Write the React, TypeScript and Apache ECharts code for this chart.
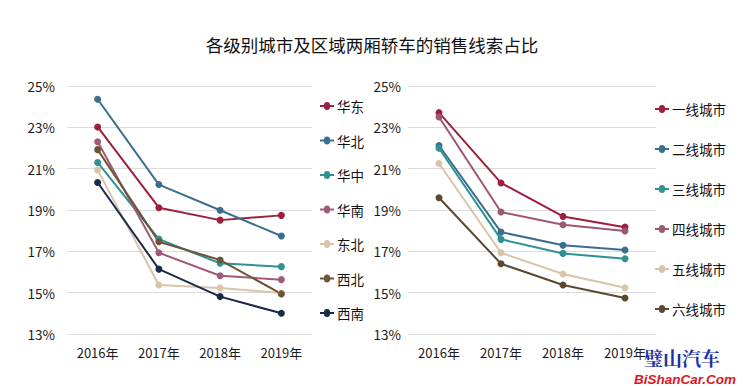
import React, { useEffect, useRef } from "react";
import * as echarts from "echarts";

const years = ["2016年", "2017年", "2018年", "2019年"];

const regionNames = ["华东", "华北", "华中", "华南", "东北", "西北", "西南"];
const huaDong = [23.02, 19.11, 18.51, 18.74];
const huaBei = [24.36, 20.23, 18.99, 17.74];
const huaZhong = [21.3, 17.59, 16.42, 16.26];
const huaNan = [22.3, 16.93, 15.82, 15.63];
const dongBei = [20.93, 15.37, 15.23, 14.98];
const xiBei = [21.92, 17.46, 16.58, 14.94];
const xiNan = [20.33, 16.14, 14.81, 14.0];
const regionValues = [huaDong, huaBei, huaZhong, huaNan, dongBei, xiBei, xiNan];

const tierNames = ["一线城市", "二线城市", "三线城市", "四线城市", "五线城市", "六线城市"];
const tier1 = [23.71, 20.31, 18.69, 18.17];
const tier2 = [22.12, 17.93, 17.29, 17.06];
const tier3 = [21.99, 17.58, 16.9, 16.64];
const tier4 = [23.5, 18.9, 18.29, 17.98];
const tier5 = [21.25, 16.93, 15.9, 15.24];
const tier6 = [19.59, 16.4, 15.37, 14.74];
const tierValues = [tier1, tier2, tier3, tier4, tier5, tier6];

const yTicks = [13, 15, 17, 19, 21, 23, 25];

const regionColors = ["#9c1f3e", "#3b6e8e", "#2f9292", "#a15b7a", "#d8c4a8", "#6d5436", "#1b2949"];
const tierColors = ["#9c1f3e", "#3b6e8e", "#2f9292", "#9d5674", "#d8c4a8", "#5c4830"];

const FONT = "'Noto Sans CJK SC', 'Noto Sans', sans-serif";

export default function App() {
  const ref = useRef<HTMLDivElement>(null);
  useEffect(() => {
    if (!ref.current) return;
    const chart = echarts.init(ref.current, undefined, { renderer: "svg" });

    const makeX = (gridIndex: number) => ({
      type: "category" as const,
      gridIndex,
      data: years,
      boundaryGap: true,
      axisLine: { show: false },
      axisTick: { show: false },
      axisLabel: { color: "#1a1a1a", fontSize: 13, fontFamily: FONT, margin: 12 },
    });
    const makeY = (gridIndex: number, margin: number) => ({
      type: "value" as const,
      gridIndex,
      min: yTicks[0],
      max: yTicks[yTicks.length - 1],
      interval: 2,
      axisLine: { show: false },
      axisTick: { show: false },
      axisLabel: {
        color: "#1a1a1a",
        fontSize: 13.5,
        fontFamily: FONT,
        margin,
        formatter: (v: number) => `${v}%`,
      },
      splitLine: { lineStyle: { color: "#dcdcdc", width: 1 } },
    });

    const mkSeries = (names: string[], vals: number[][], colors: string[], idx: number) =>
      names.map((n, i) => ({
        name: n,
        type: "line" as const,
        xAxisIndex: idx,
        yAxisIndex: idx,
        data: vals[i],
        symbol: "circle",
        symbolSize: 7,
        lineStyle: { width: 2, color: colors[i] },
        itemStyle: { color: colors[i] },
        emphasis: { disabled: true },
      }));

    const legendBase = {
      orient: "vertical" as const,
      icon: "path://M0,6 L4,6 A3,3 0 1,1 10,6 L14,6 L14,8 L10,8 A3,3 0 1,1 4,8 L0,8 Z",
      itemWidth: 14,
      itemHeight: 8,
      textStyle: { color: "#111", fontSize: 13.5, fontFamily: FONT, lineHeight: 14, padding: [0, 0, 0, -2] },
      selectedMode: false,
      padding: 0,
    };

    chart.setOption({
      animation: false,
      backgroundColor: "#ffffff",
      title: {
        text: "各级别城市及区域两厢轿车的销售线索占比",
        left: "center",
        top: 31,
        textStyle: { color: "#111", fontSize: 17.5, fontWeight: "normal", fontFamily: FONT },
      },
      grid: [
        { left: 67, right: 432, top: 86, bottom: 55 },
        { left: 408, right: 88, top: 86, bottom: 55 },
      ],
      xAxis: [makeX(0), makeX(1)],
      yAxis: [makeY(0, 12), makeY(1, 7)],
      legend: [
        { ...legendBase, data: regionNames, left: 320, top: 99, itemGap: 20.5 },
        { ...legendBase, data: tierNames, left: 655, top: 102, itemGap: 26 },
      ],
      series: [
        ...mkSeries(regionNames, regionValues, regionColors, 0),
        ...mkSeries(tierNames, tierValues, tierColors, 1),
      ],
      graphic: [
        {
          type: "text",
          left: 644,
          top: 348,
          style: {
            text: "璧山汽车",
            fill: "#1a2fa8",
            font: "bold 19px 'Noto Serif CJK SC', 'Noto Sans CJK SC', serif",
          },
        },
        {
          type: "text",
          left: 634,
          top: 372,
          style: {
            text: "BiShanCar.Com",
            fill: "#e0141c",
            font: "italic bold 13.5px 'Liberation Sans', sans-serif",
          },
        },
      ],
    });
    return () => chart.dispose();
  }, []);
  return <div ref={ref} style={{ width: 744, height: 389, position: "absolute", left: 0, top: 0 }} />;
}
